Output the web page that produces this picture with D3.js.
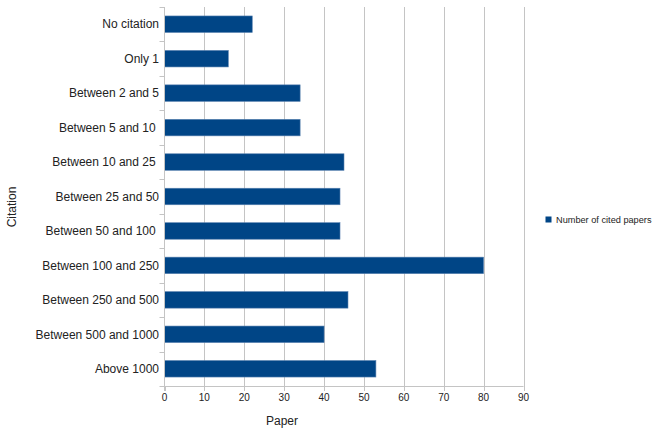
<!DOCTYPE html>
<html><head><meta charset="utf-8">
<script src="https://cdn.jsdelivr.net/npm/d3@7"></script>
<style>body{margin:0;background:#fff}svg{display:block}text{font-family:"Liberation Sans",Arial,sans-serif;fill:#222}</style>
</head><body>
<script>
const categories = ["No citation","Only 1","Between 2 and 5","Between 5 and 10 ","Between 10 and 25 ","Between 25 and 50","Between 50 and 100 ","Between 100 and 250","Between 250 and 500","Between 500 and 1000","Above 1000"];
const values = [22,16,34,34,45,44,44,80,46,40,53];
const xTicks = [0,10,20,30,40,50,60,70,80,90];
const seriesName = "Number of cited papers";

const W=656,H=431;
const m={left:164.5,right:132.5,top:7,bottom:45};
const svg=d3.select("body").append("svg").attr("width",W).attr("height",H);
const x=d3.scaleLinear().domain([0,90]).range([m.left,W-m.right]);
const y=d3.scaleBand().domain(categories).range([m.top,H-m.bottom]).paddingInner(0.52).paddingOuter(0.26);
const yb=d3.scaleBand().domain(categories).range([m.top,H-m.bottom]);

// gridlines
svg.append("g").selectAll("line").data(xTicks.slice(1)).join("line")
  .attr("x1",d=>Math.round(x(d))+0.5).attr("x2",d=>Math.round(x(d))+0.5)
  .attr("y1",m.top).attr("y2",H-m.bottom).attr("stroke","#c4c4c4").attr("stroke-width",1);

// bars
svg.append("g").selectAll("rect").data(categories).join("rect")
  .attr("x",x(0)).attr("y",d=>y(d)).attr("width",(d,i)=>x(values[i])-x(0)).attr("height",y.bandwidth())
  .attr("fill","#004586").attr("stroke","#5a82b0").attr("stroke-width",0.6);

// y axis line and ticks
const ax=svg.append("g");
ax.append("line").attr("x1",m.left).attr("x2",m.left).attr("y1",m.top).attr("y2",H-m.bottom+5).attr("stroke","#c4c4c4");
const bounds=categories.map(c=>yb(c)).concat([H-m.bottom]);
ax.selectAll("line.t").data(bounds).join("line").attr("class","t")
  .attr("x1",m.left-5).attr("x2",m.left).attr("y1",d=>Math.round(d)+0.5).attr("y2",d=>Math.round(d)+0.5).attr("stroke","#c4c4c4");
ax.selectAll("text").data(categories).join("text")
  .attr("x",m.left-5.5).attr("y",d=>yb(d)+yb.bandwidth()/2).attr("dy","0.35em")
  .attr("text-anchor","end").style("white-space","pre").attr("font-size",12).text(d=>d);

// x axis
const bx=svg.append("g");
bx.append("line").attr("x1",m.left).attr("x2",x(90)).attr("y1",H-m.bottom+0.5).attr("y2",H-m.bottom+0.5).attr("stroke","#c4c4c4");
bx.selectAll("line.t").data(xTicks).join("line").attr("class","t")
  .attr("x1",d=>Math.round(x(d))+0.5).attr("x2",d=>Math.round(x(d))+0.5).attr("y1",H-m.bottom).attr("y2",H-m.bottom+5).attr("stroke","#c4c4c4");
bx.selectAll("text").data(xTicks).join("text")
  .attr("x",d=>x(d)).attr("y",H-m.bottom+15).attr("text-anchor","middle").attr("font-size",10).text(d=>d);

// titles
svg.append("text").attr("x",282).attr("y",425).attr("text-anchor","middle").attr("font-size",12).text("Paper");
svg.append("text").attr("transform","translate(16,207) rotate(-90)").attr("text-anchor","middle").attr("font-size",12).text("Citation");

// legend
svg.append("rect").attr("x",545.5).attr("y",216.5).attr("width",6).attr("height",6).attr("fill","#004586");
svg.append("text").attr("x",556).attr("y",223).attr("font-size",9.2).text(seriesName);
</script>
</body></html>
